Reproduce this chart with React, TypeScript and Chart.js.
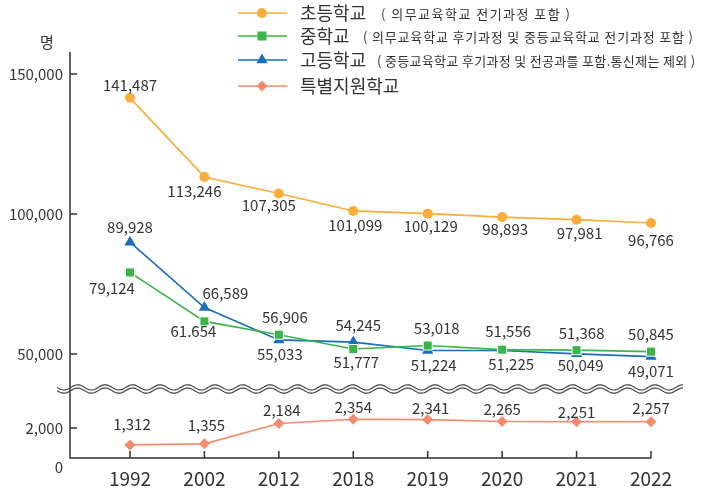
import React, { useEffect, useRef } from 'react';
import { Chart, registerables } from 'chart.js';

Chart.register(...registerables);

// ---------- data ----------
const years = ['1992', '2002', '2012', '2018', '2019', '2020', '2021', '2022'];
const elementary = [141487, 113246, 107305, 101099, 100129, 98893, 97981, 96766];
const middle = [79124, 61654, 56906, 51777, 53018, 51556, 51368, 50845];
const middleLabels = ['79,124', '61.654', '56,906', '51,777', '53,018', '51,556', '51,368', '50,845'];
const high = [89928, 66589, 55033, 54245, 51224, 51225, 50049, 49071];
const special = [1312, 1355, 2184, 2354, 2341, 2265, 2251, 2257];
const topTicks = [150000, 100000, 50000];
const bottomTicks = [2000];
const unitLabel = '명';

const seriesNames = ['초등학교', '중학교', '고등학교', '특별지원학교'];
const seriesNotes = [
  '( 의무교육학교 전기과정 포함 )',
  '( 의무교육학교 후기과정 및 중등교육학교 전기과정 포함 )',
  '( 중등교육학교 후기과정 및 전공과를 포함.통신제는 제외 )',
  '',
];

// ---------- styling ----------
const FONT = '"Noto Sans CJK KR", "Noto Sans", sans-serif';
const TEXT = '#333333';
const fmt = (v: number) => v.toLocaleString('en-US');

const legendRowsY = [13, 36, 60, 86];
const noteSpan = [
  [381, 570],
  [363, 693],
  [377, 695],
  [0, 0],
];

const labelOffsets = {
  elementary: { dx: [0, -10, -10, 2, 3, 3, 3, 0], dy: [-13, 14, 12, 14, 13, 12, 14, 17] },
  middle: { dx: [-18, -11, 6, 3, 9, 6, 5, 0], dy: [16, 10, -17, 13, -17, -18, -17, -17] },
  high: { dx: [0, 21, 1, 5, 6, 9, 4, 0], dy: [-15, -14, 14, -17, 15, 14, 11, 15] },
  special: { dx: [2, 2, 3, 0, 3, 0, 0, 0], dy: [-21, -19, -13, -12, -11, -12, -10, -13] },
};

const series = [
  { name: seriesNames[0], values: elementary, texts: elementary.map(fmt), color: '#F9AD3C', point: 'circle', radius: 5, axis: 'yTop', off: labelOffsets.elementary },
  { name: seriesNames[1], values: middle, texts: middleLabels, color: '#3BB54A', point: 'rect', radius: 6.4, axis: 'yTop', off: labelOffsets.middle },
  { name: seriesNames[2], values: high, texts: high.map(fmt), color: '#1A6DB9', point: 'triangle', radius: 6.5, axis: 'yTop', off: labelOffsets.high },
  { name: seriesNames[3], values: special, texts: special.map(fmt), color: '#F58B6E', point: 'rectRot', radius: 5.5, axis: 'yBot', off: labelOffsets.special },
];

function drawMarker(ctx: CanvasRenderingContext2D, kind: string, x: number, y: number, r: number, color: string) {
  ctx.save();
  ctx.fillStyle = color;
  ctx.beginPath();
  if (kind === 'circle') {
    ctx.arc(x, y, r, 0, Math.PI * 2);
  } else if (kind === 'rect') {
    const s = Math.SQRT1_2 * r;
    ctx.rect(x - s, y - s, 2 * s, 2 * s);
  } else if (kind === 'triangle') {
    ctx.moveTo(x, y - r);
    ctx.lineTo(x + r * Math.sin((2 * Math.PI) / 3), y - r * Math.cos((2 * Math.PI) / 3));
    ctx.lineTo(x - r * Math.sin((2 * Math.PI) / 3), y - r * Math.cos((2 * Math.PI) / 3));
    ctx.closePath();
  } else {
    ctx.moveTo(x - r, y);
    ctx.lineTo(x, y - r);
    ctx.lineTo(x + r, y);
    ctx.lineTo(x, y + r);
    ctx.closePath();
  }
  ctx.fill();
  ctx.restore();
}

const decorPlugin = {
  id: 'decor',
  afterDatasetsDraw(chart: any) {
    const ctx: CanvasRenderingContext2D = chart.ctx;
    ctx.save();
    ctx.font = `15px ${FONT}`;
    ctx.fillStyle = TEXT;
    ctx.textAlign = 'center';
    ctx.textBaseline = 'middle';
    series.forEach((s, di) => {
      const meta = chart.getDatasetMeta(di);
      meta.data.forEach((pt: any, i: number) => {
        ctx.fillText(s.texts[i], pt.x + s.off.dx[i], pt.y + s.off.dy[i]);
      });
    });
    ctx.restore();
  },
  afterDraw(chart: any) {
    const ctx: CanvasRenderingContext2D = chart.ctx;
    const { left, top, bottom } = chart.chartArea;
    const xs = chart.scales.x;
    const yTop = chart.scales.yTop;
    const yBot = chart.scales.yBot;
    const right = xs.getPixelForValue(years.length - 1);
    ctx.save();
    ctx.strokeStyle = '#333';
    ctx.lineWidth = 1.5;
    // axes
    ctx.beginPath();
    ctx.moveTo(left, top);
    ctx.lineTo(left, bottom);
    ctx.lineTo(right, bottom);
    ctx.stroke();
    // y ticks
    ctx.fillStyle = TEXT;
    ctx.font = `15px ${FONT}`;
    ctx.textAlign = 'right';
    ctx.textBaseline = 'middle';
    const yTick = (y: number, text: string) => {
      ctx.beginPath();
      ctx.moveTo(left, y);
      ctx.lineTo(left + 7, y);
      ctx.stroke();
      ctx.fillText(text, left - 7, y);
    };
    topTicks.forEach((v) => yTick(yTop.getPixelForValue(v), fmt(v)));
    bottomTicks.forEach((v) => yTick(yBot.getPixelForValue(v), fmt(v)));
    ctx.fillText('0', left - 7, bottom + 9);
    // x ticks
    ctx.textAlign = 'center';
    ctx.font = `19px ${FONT}`;
    years.forEach((yr, i) => {
      const x = xs.getPixelForValue(i);
      ctx.beginPath();
      ctx.moveTo(x, bottom);
      ctx.lineTo(x, bottom - 7);
      ctx.stroke();
      ctx.fillText(yr, x, bottom + 21);
    });
    // unit
    ctx.font = `15px ${FONT}`;
    ctx.fillText(unitLabel, 47, 42);
    // wave break
    const wy = 389;
    const x0 = 57;
    const x1 = 683;
    ctx.lineWidth = 1.2;
    ctx.strokeStyle = '#444';
    [-1.6, 1.6].forEach((o) => {
      ctx.beginPath();
      for (let x = x0; x <= x1; x += 1) {
        const y = wy + o + 2.6 * Math.sin(((x - x0) / 27.5) * Math.PI * 2);
        if (x === x0) ctx.moveTo(x, y);
        else ctx.lineTo(x, y);
      }
      ctx.stroke();
    });
    // legend
    series.forEach((s, i) => {
      const y = legendRowsY[i];
      ctx.strokeStyle = s.color;
      ctx.lineWidth = 1.5;
      ctx.beginPath();
      ctx.moveTo(238, y);
      ctx.lineTo(287, y);
      ctx.stroke();
      drawMarker(ctx, s.point, 262, y, s.radius, s.color);
      ctx.fillStyle = TEXT;
      ctx.textAlign = 'left';
      ctx.textBaseline = 'middle';
      ctx.font = `18px ${FONT}`;
      ctx.fillText(s.name, 300, y);
      const note = seriesNotes[i];
      if (note) {
        ctx.save();
        ctx.font = `13px ${FONT}`;
        const [sx, ex] = noteSpan[i];
        const natural = ctx.measureText(note).width;
        const ls = Math.max(-1, (ex - sx - natural) / (note.length - 1));
        (ctx as any).letterSpacing = `${ls.toFixed(2)}px`;
        ctx.fillText(note, sx, y + 1);
        ctx.restore();
      }
    });
    ctx.restore();
  },
};

export default function App() {
  const ref = useRef<HTMLCanvasElement | null>(null);
  useEffect(() => {
    if (!ref.current) return;
    const chart = new Chart(ref.current, {
      type: 'line',
      data: {
        datasets: series.map((s) => ({
          label: s.name,
          data: s.values.map((v, i) => ({ x: i, y: v })),
          yAxisID: s.axis,
          borderColor: s.color,
          backgroundColor: s.color,
          borderWidth: 1.6,
          pointStyle: s.point as any,
          pointRadius: s.radius,
          pointBorderColor: s.point === 'rect' ? '#ffffff' : s.color,
          pointBorderWidth: s.point === 'rect' ? 1 : 0,
          clip: false as any,
          tension: 0,
        })),
      },
      options: {
        responsive: false,
        animation: false,
        layout: { padding: { left: 70, top: 52, right: 50, bottom: 37 } },
        plugins: { legend: { display: false }, tooltip: { enabled: false } },
        scales: {
          x: { type: 'linear', display: false, min: -0.806, max: 7 },
          yTop: { type: 'linear', display: false, min: 12857, max: 157857 },
          yBot: { type: 'linear', display: false, min: 780, max: 17285 },
        },
      },
      plugins: [decorPlugin],
    });
    return () => chart.destroy();
  }, []);
  return (
    <div style={{ position: 'absolute', left: 0, top: 0, width: 701, height: 495, background: '#fff' }}>
      <canvas ref={ref} width={701} height={495} style={{ width: 701, height: 495, display: 'block' }} />
    </div>
  );
}
